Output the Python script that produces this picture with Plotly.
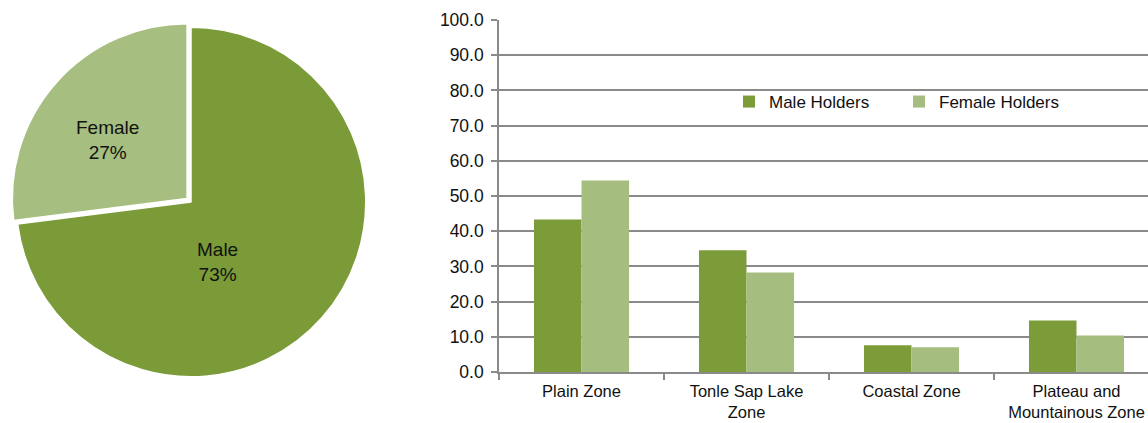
import plotly.graph_objects as go

# ---- data ----
pie_labels = ["Male", "Female"]
pie_values = [73, 27]

zones = ["Plain Zone", "Tonle Sap Lake<br>Zone", "Coastal Zone", "Plateau and<br>Mountainous Zone"]
male_holders = [43.3, 34.6, 7.6, 14.6]
female_holders = [54.4, 28.3, 7.0, 10.4]
y_ticks = [0, 10, 20, 30, 40, 50, 60, 70, 80, 90, 100]

W, H = 1148, 423
FONT = "Liberation Sans, Arial, sans-serif"
GRID = "#8a8a8a"

male_bar = "#7b9c38"
female_bar = "#a5bd7e"
male_pie = "#7a9b37"
female_pie = "#a6be7f"

fig = go.Figure()

# pie
fig.add_trace(go.Pie(
    labels=pie_labels, values=pie_values,
    sort=False, direction="clockwise", rotation=0,
    pull=[0, 0.03],
    marker=dict(colors=[male_pie, female_pie], line=dict(color="white", width=1.5)),
    textinfo="none", hoverinfo="label+percent",
    domain=dict(x=[11 / W, 371 / W], y=[1 - 382 / H, 1 - 22 / H]),
    showlegend=False,
))

total = sum(pie_values)
label_pos = [(217 / W, 1 - 262 / H), (107 / W, 1 - 140 / H)]
for lab, val, (ax, ay) in zip(pie_labels, pie_values, label_pos):
    fig.add_annotation(
        x=ax, y=ay, xref="paper", yref="paper", xanchor="center", yanchor="middle",
        text=f"{lab}<br>{round(val / total * 100)}%",
        showarrow=False, font=dict(family=FONT, size=19, color="#111"),
        align="center",
    )

# bars
fig.add_trace(go.Bar(x=zones, y=male_holders, name="Male Holders",
                     marker=dict(color=male_bar, line=dict(width=0))))
fig.add_trace(go.Bar(x=zones, y=female_holders, name="Female Holders",
                     marker=dict(color=female_bar, line=dict(width=0))))

x0 = 499 / W
cat_px = 165
x_hi = -0.5 + (W - 499) / cat_px

fig.update_layout(
    width=W, height=H,
    margin=dict(l=0, r=0, t=0, b=0),
    paper_bgcolor="white", plot_bgcolor="white",
    template="none",
    barmode="group", bargap=0.424, bargroupgap=0,
    font=dict(family=FONT, size=16, color="#111"),
    xaxis=dict(
        domain=[x0, 1.0], range=[-0.5, x_hi], type="category",
        showgrid=False, showline=True, linecolor=GRID, linewidth=1.5,
        ticks="outside", tickson="boundaries", ticklen=6, tickcolor=GRID, tickwidth=1.5,
        tickfont=dict(family=FONT, size=16.5, color="#111"), ticklabelstandoff=3,
        automargin=False, fixedrange=True, zeroline=False,
    ),
    yaxis=dict(
        domain=[1 - 372 / H, 1 - 20 / H], range=[0, 100],
        tickvals=y_ticks, ticktext=[f"{v:.1f}" for v in y_ticks],
        showgrid=True, gridcolor=GRID, gridwidth=1.6,
        showline=True, linecolor=GRID, linewidth=1.6,
        ticks="outside", ticklen=6, tickcolor=GRID, tickwidth=1.5,
        tickfont=dict(family=FONT, size=17.5, color="#111"), ticklabelstandoff=4,
        zeroline=False, automargin=False, fixedrange=True,
    ),
    legend=dict(
        orientation="h", x=729 / W, y=1 - 102 / H, xanchor="left", yanchor="middle",
        bgcolor="rgba(0,0,0,0)", font=dict(family=FONT, size=17, color="#111"),
        itemwidth=30, entrywidth=125, entrywidthmode="pixels",
        traceorder="normal",
    ),
)

fig.write_html("out.html", config={"displayModeBar": False},
               post_script="document.body.style.margin='0px';")
